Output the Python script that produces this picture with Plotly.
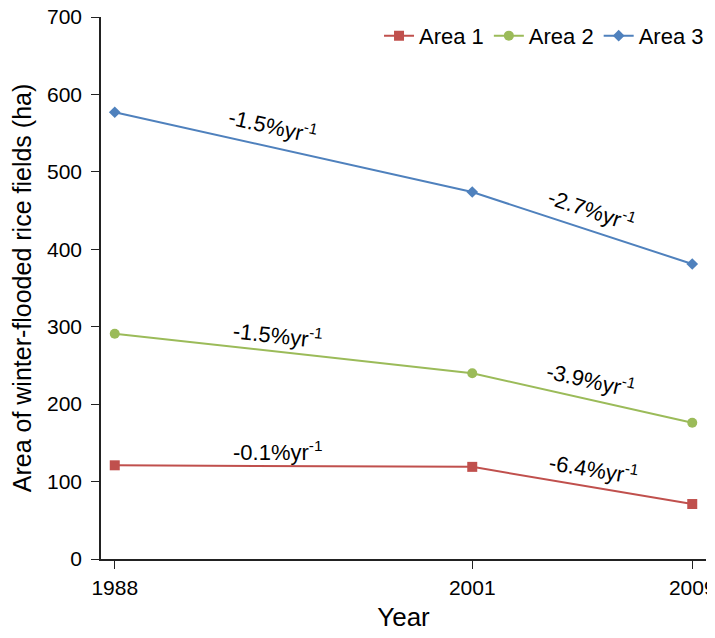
import plotly.graph_objects as go

years = [1988, 2001, 2009]
area1 = [121, 119, 71]
area2 = [291, 240, 176]
area3 = [577, 474, 381]

series_names = ["Area 1", "Area 2", "Area 3"]
colors = ["#C0504D", "#9BBB59", "#4F81BD"]
symbols = ["square", "circle", "diamond"]
msizes = [10, 10, 9]

# rate labels: text, position (data units), angle
rate_texts = ["-1.5%yr<sup>-1</sup>", "-2.7%yr<sup>-1</sup>",
              "-1.5%yr<sup>-1</sup>", "-3.9%yr<sup>-1</sup>",
              "-0.1%yr<sup>-1</sup>", "-6.4%yr<sup>-1</sup>"]
rate_x = [1993.75, 2005.35, 1993.9, 2005.3, 1993.9, 2005.4]
rate_y = [560, 452, 290, 232, 140, 118]
rate_angle = [12.8, 18.4, 6.4, 12.8, 0, 9.5]

FONT = "Liberation Sans, Arial, sans-serif"

fig = go.Figure()
for name, vals, c, s, ms in zip(series_names, [area1, area2, area3], colors, symbols, msizes):
    fig.add_trace(go.Scatter(
        x=years, y=vals, name=name, mode="lines+markers",
        line=dict(color=c, width=2),
        marker=dict(color=c, symbol=s, size=ms),
    ))

for t, x, y, a in zip(rate_texts, rate_x, rate_y, rate_angle):
    fig.add_annotation(x=x, y=y, text=t, textangle=a, showarrow=False,
                       font=dict(family=FONT, size=22, color="black"),
                       xanchor="center", yanchor="middle")

# page body has an 8px margin, so the figure is sized to fit the window
fig.update_layout(
    width=707, height=630,
    margin=dict(l=93, r=9, t=9, b=79, autoexpand=False),
    paper_bgcolor="white", plot_bgcolor="white",
    font=dict(family=FONT, size=22, color="black"),
    showlegend=True,
    legend=dict(orientation="h", x=1.005, xanchor="right", y=1.004, yanchor="top",
                font=dict(size=22), itemwidth=30, bgcolor="rgba(0,0,0,0)",
                tracegroupgap=0),
    xaxis=dict(
        range=[1987.5, 2009.5], tickvals=years, ticktext=[str(y) for y in years],
        showgrid=False, zeroline=False, showline=True, linecolor="#222",
        linewidth=1.5, ticks="outside", ticklen=8, tickcolor="#222",
        tickfont=dict(size=21), ticklabeloverflow="allow", ticklabelstandoff=1,
        automargin=False,
        title=dict(text="Year", font=dict(size=26), standoff=10),
    ),
    yaxis=dict(
        range=[0, 700], tickvals=[0, 100, 200, 300, 400, 500, 600, 700],
        showgrid=False, zeroline=False, showline=True, linecolor="#222",
        linewidth=1.5, ticks="outside", ticklen=8, tickcolor="#222",
        tickfont=dict(size=21), ticklabeloverflow="allow", ticklabelstandoff=5,
        automargin=False,
        title=dict(text="Area of winter-flooded rice fields (ha)", font=dict(size=25), standoff=20),
    ),
)

fig.write_html("out.html")
